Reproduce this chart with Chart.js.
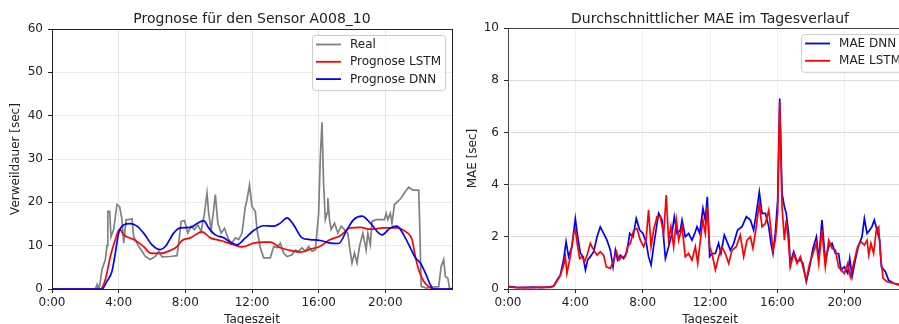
<html>
<head>
<meta charset="utf-8">
<title>Prognose A008_10 und MAE</title>
<script src="https://cdn.jsdelivr.net/npm/chart.js@4.4.0/dist/chart.umd.min.js"></script>
<style>
  html, body { margin: 0; padding: 0; background: #fff; overflow: hidden; }
  #wrap { position: relative; width: 899px; height: 324px; overflow: hidden; }
  #left { position: absolute; left: 0; top: 0; }
  #right { position: absolute; left: 455px; top: 0; }
</style>
</head>
<body>
<div id="wrap">
  <canvas id="left" width="455" height="324"></canvas>
  <canvas id="right" width="460" height="324"></canvas>
</div>
<script>
var realPoints = [[0,0],[2.6,0],[2.7,1],[2.75,0],[2.85,0.5],[3.0,4.5],[3.2,6.8],[3.3,10],[3.35,17.9],[3.46,17.9],
  [3.54,12],[3.7,13.7],[3.9,19.5],[4.06,19],[4.2,16],[4.3,10.6],[4.45,16],[4.6,16],[4.8,16.2],[4.9,12],
  [5.05,11],[5.2,9.8],[5.4,8.7],[5.6,7.5],[5.9,6.8],[6.2,7.5],[6.4,8.7],[6.6,7.4],[7.1,7.5],[7.5,7.7],
  [7.6,10.6],[7.75,15.6],[7.95,15.8],[8.15,12.9],[8.35,14.5],[8.55,13.7],[8.75,14.8],[8.95,13.3],[9.15,17.5],[9.3,22.1],
  [9.4,17.5],[9.55,13.7],[9.7,18.3],[9.8,21.8],[9.95,15.2],[10.15,12.9],[10.35,14],[10.5,12.4],[10.6,11.4],[10.8,10.6],
  [11.0,11.8],[11.2,11.4],[11.4,12.9],[11.6,19],[11.7,20.6],[11.85,24],[12.0,19],[12.2,17.9],[12.3,13.7],[12.5,9.5],
  [12.7,7.2],[13.1,7.2],[13.3,9.8],[13.5,9.5],[13.7,10.6],[13.9,8.3],[14.1,7.5],[14.4,7.9],[14.6,9],[14.8,8.7],
  [15.0,9.5],[15.2,8.7],[15.4,9.8],[15.6,8.7],[15.8,9],[16.0,17.5],[16.1,30.6],[16.2,38.5],[16.3,23.7],[16.4,16],
  [16.5,17.5],[16.55,21],[16.65,16],[16.75,13.7],[16.95,15.2],[17.15,12.9],[17.35,14.5],[17.55,13.7],[17.75,12.9],[17.85,9.8],
  [18.0,6],[18.15,8.3],[18.3,6],[18.45,9.8],[18.65,12.9],[18.85,9],[18.95,12.9],[19.1,10.2],[19.2,15.6],[19.45,16],
  [19.75,16],[19.95,16],[20.05,17.5],[20.15,16],[20.3,17.5],[20.4,15.2],[20.55,19.5],[20.75,20.2],[20.95,21],[21.15,22.2],
  [21.4,23.5],[21.65,22.8],[22.0,22.8],[22.05,16.8],[22.15,0.6],[22.45,0.2],[22.85,0.5],[23.2,0.5],[23.35,5.2],[23.5,6.8],
  [23.6,2.9],[23.75,2.5],[23.85,0.2],[24,0]];

var lstmPoints = [[0,0],[2.9,0],[3.2,2.2],[3.5,7.5],[3.8,11.4],[4.05,13.8],[4.3,12.5],[4.9,11.4],[5.5,9.8],[5.9,8.3],
  [6.5,8.2],[7.1,8.9],[7.5,9.8],[7.8,11.2],[8.3,11.8],[9.0,13.2],[9.5,11.8],[10.1,11.2],[10.9,10.2],[11.4,9.7],
  [12.1,10.6],[12.7,10.8],[13.1,10.8],[13.7,9.5],[14.3,8.9],[14.9,8.5],[15.5,9.2],[16.0,9.7],[16.7,11.4],[17.3,12.3],
  [17.9,14.1],[18.5,14.2],[19.1,13.8],[19.9,14.1],[20.7,14.1],[21.2,13.3],[21.6,11.4],[21.8,7.5],[22.0,4.5],[22.3,1.8],
  [22.7,0.3],[22.9,0],[24,0]];

var dnnPoints = [[0,0],[3.0,0],[3.3,1.8],[3.6,4.1],[3.8,8.3],[4.0,12.9],[4.3,14.8],[4.7,15.1],[5.1,14.5],[5.5,12.9],
  [6.0,10.2],[6.5,9.1],[6.8,9.8],[7.3,12.9],[7.7,14.1],[8.3,14.2],[8.7,15.1],[9.1,15.8],[9.4,14.1],[9.8,12.5],
  [10.3,11.8],[10.7,10.8],[11.1,10.2],[11.6,11.8],[12.1,13.5],[12.7,14.6],[13.3,14.5],[13.7,15.2],[14.1,16.4],[14.5,14.8],
  [15.0,11.8],[15.5,11.4],[16.1,11.2],[16.7,10.6],[17.2,10.5],[17.7,13.7],[18.1,16],[18.6,16.8],[19.1,15.2],[19.8,12.5],
  [20.3,14.1],[20.7,14.5],[21.1,12.5],[21.5,9.5],[21.8,7.2],[22.1,6],[22.4,3.7],[22.7,1.0],[22.9,0],[24,0]];

var maeDnnPoints = [[0,0.1],[0.5,0.06],[1,0.05],[1.5,0.07],[2,0.05],[2.5,0.08],[2.71,0.11],[2.91,0.34],[3.11,0.54],[3.3,1.11],
  [3.45,1.81],[3.6,1.24],[3.8,1.62],[4.0,2.7],[4.14,2.0],[4.3,1.37],[4.46,1.24],[4.6,0.73],[4.73,1.11],[4.89,1.24],
  [5.09,1.43],[5.29,2.0],[5.48,2.38],[5.68,2.13],[5.88,1.87],[6.08,1.49],[6.24,0.85],[6.38,1.49],[6.51,1.11],[6.67,1.3],
  [6.87,1.17],[7.07,1.43],[7.23,2.13],[7.43,2.0],[7.62,2.7],[7.82,2.26],[8.02,2.13],[8.22,1.75],[8.35,1.24],[8.5,0.92],
  [8.65,1.62],[8.85,2.5],[8.95,2.9],[9.15,2.64],[9.35,1.17],[9.54,1.62],[9.74,2.13],[9.88,2.77],[10.04,2.13],[10.24,2.26],
  [10.34,2.64],[10.53,2.0],[10.73,2.13],[10.93,1.87],[11.09,2.13],[11.23,2.39],[11.39,2.13],[11.58,3.09],[11.72,2.64],[11.84,3.53],
  [11.98,1.24],[12.12,1.36],[12.32,1.36],[12.51,1.75],[12.65,1.36],[12.85,2.07],[13.05,1.75],[13.21,1.49],[13.41,1.75],[13.64,2.26],
  [13.9,2.39],[14.16,2.77],[14.4,2.64],[14.59,2.26],[14.75,2.9],[14.93,3.72],[15.09,2.9],[15.29,2.9],[15.49,2.39],[15.62,1.75],
  [15.74,1.36],[15.88,2.13],[16.02,3.4],[16.14,7.3],[16.28,3.66],[16.42,3.15],[16.53,2.9],[16.67,2.13],[16.77,0.98],[16.97,1.43],
  [17.17,1.05],[17.37,1.11],[17.52,0.98],[17.72,0.28],[17.92,0.85],[18.12,1.56],[18.32,2.0],[18.46,1.11],[18.65,2.64],[18.85,1.11],
  [19.05,1.62],[19.25,1.75],[19.45,1.36],[19.64,1.36],[19.78,0.73],[19.98,0.85],[20.18,0.6],[20.3,1.17],[20.44,0.47],[20.63,1.11],
  [20.83,1.68],[21.03,2.0],[21.17,2.7],[21.33,2.13],[21.49,2.26],[21.62,2.39],[21.76,2.64],[21.92,2.26],[22.08,1.87],[22.18,0.85],
  [22.42,0.66],[22.61,0.34],[22.91,0.22],[23.21,0.18],[24,0.15]];

var maeLstmPoints = [[0,0.08],[0.5,0.05],[1,0.06],[1.5,0.05],[2,0.07],[2.5,0.06],[2.7,0.1],[2.9,0.3],[3.1,0.5],[3.3,0.9],
  [3.41,1.24],[3.5,0.6],[3.7,1.24],[3.9,2.13],[4.0,2.26],[4.14,1.62],[4.26,1.17],[4.4,1.24],[4.55,1.05],[4.7,1.3],
  [4.89,1.75],[5.09,1.49],[5.29,1.3],[5.48,1.43],[5.68,1.3],[5.84,0.85],[6.08,0.79],[6.28,1.11],[6.44,1.43],[6.6,1.11],
  [6.77,1.24],[6.97,1.24],[7.1,1.62],[7.27,1.75],[7.47,2.26],[7.66,2.32],[7.86,1.87],[8.06,1.62],[8.2,1.87],[8.35,3.02],
  [8.5,1.62],[8.65,2.26],[8.85,2.77],[9.05,2.77],[9.25,2.13],[9.4,3.6],[9.54,1.87],[9.68,2.39],[9.84,1.62],[10.0,2.64],
  [10.14,1.87],[10.34,2.39],[10.53,1.24],[10.73,1.36],[10.93,1.11],[11.13,1.62],[11.27,0.98],[11.43,1.87],[11.58,2.64],[11.72,2.13],
  [11.84,3.15],[11.98,1.62],[12.12,1.36],[12.32,0.73],[12.51,1.24],[12.71,1.62],[12.91,1.36],[13.11,0.98],[13.31,1.49],[13.56,1.62],
  [13.8,2.07],[14.0,1.24],[14.2,1.87],[14.4,2.0],[14.55,1.56],[14.75,2.39],[14.93,3.28],[15.09,2.39],[15.29,2.51],[15.49,3.02],
  [15.62,2.26],[15.74,1.49],[15.88,1.87],[16.02,2.9],[16.14,7.17],[16.28,3.15],[16.42,1.87],[16.53,2.64],[16.67,1.75],[16.77,0.85],
  [16.97,1.36],[17.17,0.98],[17.37,1.24],[17.52,0.85],[17.72,0.34],[17.92,0.98],[18.12,1.36],[18.32,1.75],[18.46,0.98],[18.65,2.26],
  [18.85,0.85],[19.05,1.87],[19.25,1.56],[19.45,1.49],[19.64,0.85],[19.78,0.73],[19.98,0.6],[20.18,0.98],[20.34,0.47],[20.53,0.98],
  [20.77,1.62],[20.97,1.81],[21.17,1.68],[21.33,1.87],[21.43,1.3],[21.56,1.75],[21.72,1.36],[21.88,2.26],[22.02,2.39],[22.12,1.36],
  [22.28,0.41],[22.52,0.28],[22.91,0.22],[23.21,0.15],[24,0.12]];

var hourTickStep = 4;
var leftYTicks = { min: 0, max: 60, step: 10 };
var rightYTicks = { min: 0, max: 10, step: 2 };

Chart.defaults.font.family = 'DejaVu Sans';
Chart.defaults.color = '#222';

function toXY(pairs) {
  return pairs.map(function(p) { return { x: p[0], y: p[1] }; });
}

// Titel, Legende im Plotbereich und Rahmen wie bei matplotlib
var mplLook = {
  id: 'mplLook',
  afterDraw: function(chart, args, opts) {
    var ctx = chart.ctx, a = chart.chartArea;
    ctx.save();
    ctx.strokeStyle = opts.frame;
    ctx.lineWidth = 1;
    ctx.strokeRect(a.left + 0.5, a.top + 0.5, a.right - a.left, a.bottom - a.top);

    ctx.fillStyle = '#222';
    ctx.font = '14px "DejaVu Sans"';
    ctx.textAlign = 'center';
    ctx.textBaseline = 'alphabetic';
    ctx.fillText(opts.title, (a.left + a.right) / 2, 22.5);

    ctx.font = '12px "DejaVu Sans"';
    var items = opts.items, maxW = 0;
    items.forEach(function(it) { maxW = Math.max(maxW, ctx.measureText(it.text).width); });
    var w = 4 + 25 + 9 + maxW + 4;
    var rowH = 17.3;
    var h = 9.5 + rowH * (items.length - 1) + 11;
    var bx = a.right - 7 - w, by = a.top + 6;
    ctx.beginPath();
    ctx.roundRect(bx + 0.5, by + 0.5, w, h, 3);
    ctx.fillStyle = 'rgba(255,255,255,0.8)';
    ctx.fill();
    ctx.strokeStyle = '#cccccc';
    ctx.stroke();
    ctx.textAlign = 'left';
    ctx.textBaseline = 'middle';
    items.forEach(function(it, i) {
      var y = by + 9.5 + i * rowH;
      ctx.strokeStyle = it.color;
      ctx.lineWidth = 1.8;
      ctx.beginPath();
      ctx.moveTo(bx + 4, y);
      ctx.lineTo(bx + 29, y);
      ctx.stroke();
      ctx.fillStyle = '#222';
      ctx.fillText(it.text, bx + 38, y + 0.5);
    });
    ctx.restore();
  }
};

function makeScales(yt, yTitle, yWidth, yTitlePad, gridX, gridY) {
  return {
    x: {
      type: 'linear', min: 0, max: 24,
      ticks: { stepSize: hourTickStep, autoSkip: false, maxRotation: 0, padding: 3,
        font: { size: 12 }, callback: function(v) { return v + ':00'; } },
      grid: { color: gridX, tickColor: '#222', tickLength: 4 },
      border: { display: false },
      title: { display: true, text: 'Tageszeit', font: { size: 12, lineHeight: 1 }, padding: { top: 0, bottom: -2 } },
      afterBuildTicks: function(s) { s.ticks = s.ticks.filter(function(t) { return t.value < 24; }); },
      afterFit: function(s) { s.height = 35; }
    },
    y: {
      min: yt.min, max: yt.max,
      ticks: { stepSize: yt.step, padding: 5, font: { size: 12 } },
      grid: { color: gridY, tickColor: '#222', tickLength: 4 },
      border: { display: false },
      title: { display: true, text: yTitle, font: { size: 12, lineHeight: 1 }, padding: { top: yTitlePad, bottom: 0 } },
      afterFit: function(s) { s.width = yWidth; }
    }
  };
}

function line(label, pts, color, order, smooth) {
  return {
    label: label, data: toXY(pts), borderColor: color, borderWidth: 1.7,
    pointRadius: 0, fill: false, order: order,
    tension: 0, cubicInterpolationMode: smooth ? 'monotone' : 'default'
  };
}

new Chart(document.getElementById('left').getContext('2d'), {
  type: 'line',
  data: { datasets: [
    line('Real', realPoints, '#808080', 2, false),
    line('Prognose LSTM', lstmPoints, '#ff0000', 1, true),
    line('Prognose DNN', dnnPoints, '#0000ff', 0, true)
  ] },
  options: {
    responsive: false, animation: false, devicePixelRatio: 1,
    layout: { padding: { top: 29, right: 3, left: 0, bottom: 0 } },
    scales: makeScales(leftYTicks, 'Verweildauer [sec]', 52, 10, '#e4e4e4', '#ebebeb'),
    plugins: {
      legend: { display: false }, title: { display: false }, tooltip: { enabled: false },
      mplLook: { frame: '#222', title: 'Prognose für den Sensor A008_10',
        items: [ { text: 'Real', color: '#808080' }, { text: 'Prognose LSTM', color: '#ff0000' }, { text: 'Prognose DNN', color: '#0000ff' } ] }
    }
  },
  plugins: [mplLook]
});

new Chart(document.getElementById('right').getContext('2d'), {
  type: 'line',
  data: { datasets: [
    line('MAE DNN', maeDnnPoints, '#0000ff', 1, false),
    line('MAE LSTM', maeLstmPoints, '#ff0000', 0, false)
  ] },
  options: {
    responsive: false, animation: false, devicePixelRatio: 1,
    layout: { padding: { top: 28, right: 3, left: 0, bottom: 0 } },
    scales: makeScales(rightYTicks, 'MAE [sec]', 53, 12, '#f0f0f0', '#dcdcdc'),
    plugins: {
      legend: { display: false }, title: { display: false }, tooltip: { enabled: false },
      mplLook: { frame: '#444', title: 'Durchschnittlicher MAE im Tagesverlauf',
        items: [ { text: 'MAE DNN', color: '#0000ff' }, { text: 'MAE LSTM', color: '#ff0000' } ] }
    }
  },
  plugins: [mplLook]
});
</script>
</body>
</html>
